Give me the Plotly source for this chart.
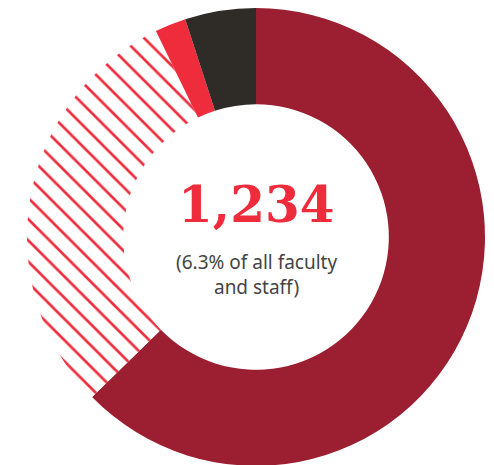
"""Donut chart with a headline count in the middle."""

import plotly.graph_objects as go

# Slice shares (percent), clockwise from 12 o'clock
SEGMENTS = ["Segment A", "Segment B", "Segment C", "Segment D"]
SHARES = [62.7, 30.1, 2.2, 5.0]

HEADLINE = "1,234"
SUBTITLE_LINES = ["(6.3% of all faculty", "and staff)"]

# Colours
DARK_RED = "#9b1e31"
BRIGHT_RED = "#ee2c3c"
NEAR_BLACK = "#2f2b26"
TEXT_GREY = "#444444"

fig = go.Figure(
    go.Pie(
        labels=SEGMENTS,
        values=SHARES,
        hole=0.58,
        sort=False,
        direction="clockwise",
        rotation=0,
        textinfo="none",
        hoverinfo="label+percent",
        marker={
            "colors": [DARK_RED, "#ffffff", BRIGHT_RED, NEAR_BLACK],
            "line": {"width": 0},
            "pattern": {
                "shape": ["", "\\", "", ""],
                "fgcolor": [DARK_RED, BRIGHT_RED, BRIGHT_RED, NEAR_BLACK],
                "bgcolor": [DARK_RED, "#ffffff", BRIGHT_RED, NEAR_BLACK],
                "size": 15,
                "solidity": 0.18,
                "fillmode": "replace",
            },
        },
        showlegend=False,
    )
)

fig.add_annotation(
    text=f"<b>{HEADLINE}</b>",
    x=0.5,
    y=0.571,
    xref="paper",
    yref="paper",
    xanchor="center",
    yanchor="middle",
    showarrow=False,
    font={"family": "DejaVu Serif", "size": 50, "color": BRIGHT_RED},
)
fig.add_annotation(
    text="<br>".join(SUBTITLE_LINES),
    x=0.5,
    y=0.418,
    xref="paper",
    yref="paper",
    xanchor="center",
    yanchor="middle",
    showarrow=False,
    font={"family": "Noto Sans", "size": 19, "color": TEXT_GREY},
)

# the page body adds an 8px offset, so the margins are shifted to compensate
fig.update_layout(
    width=494,
    height=465,
    margin={"l": 19, "r": 17, "t": 0, "b": 7},
    paper_bgcolor="#ffffff",
    plot_bgcolor="#ffffff",
)

fig.write_html("out.html")
